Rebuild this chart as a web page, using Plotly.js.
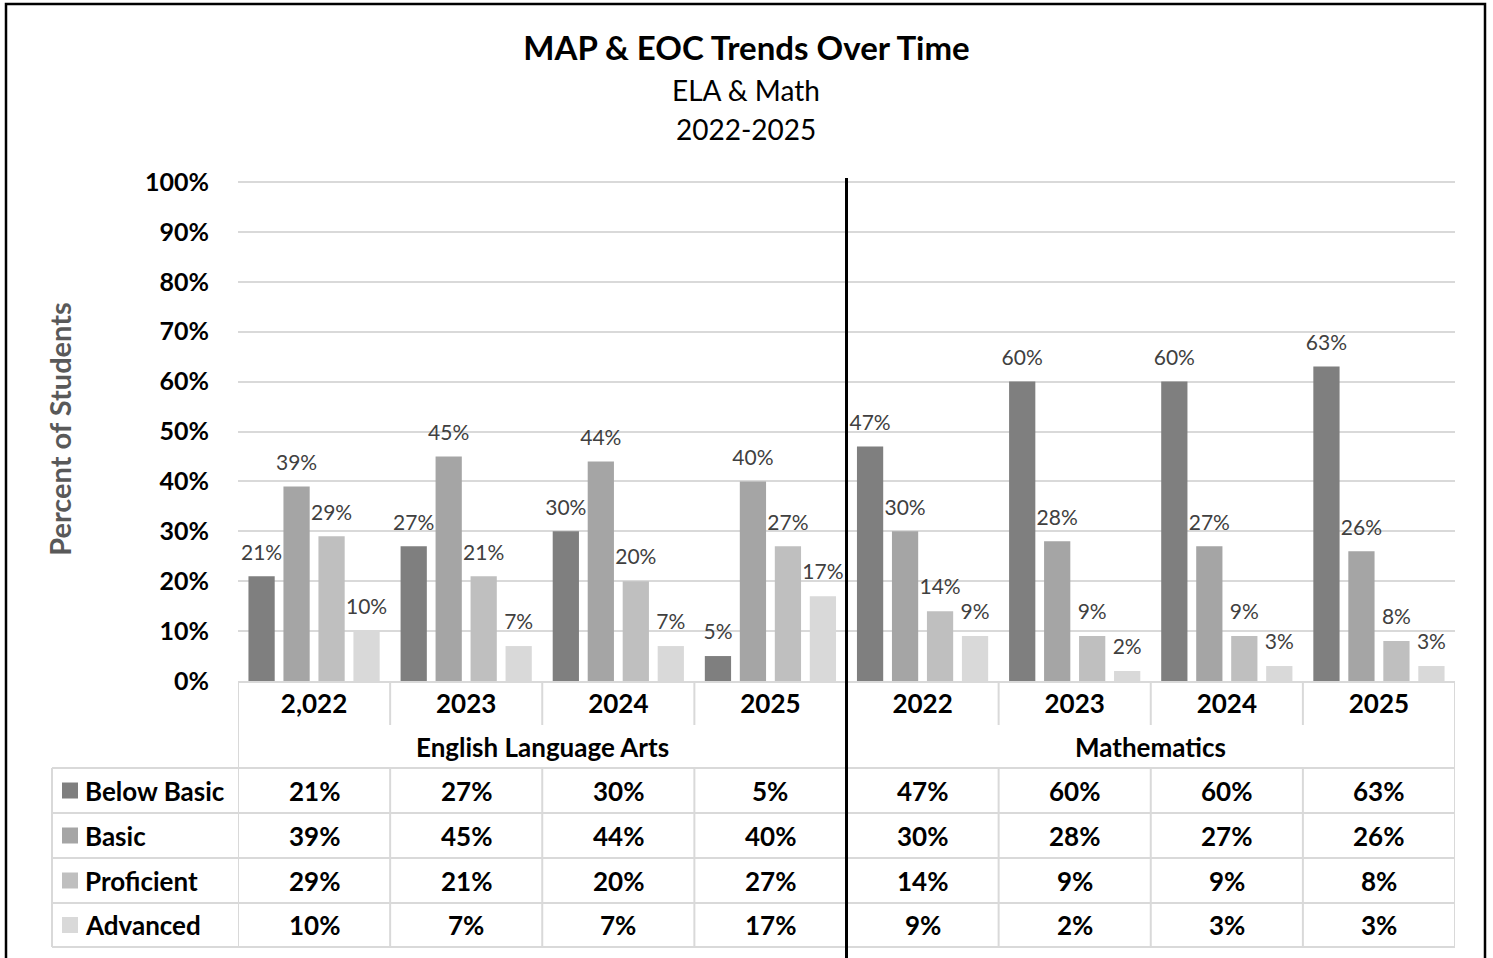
<!DOCTYPE html>
<html>
<head>
<meta charset="utf-8">
<script src="https://cdn.plot.ly/plotly-3.0.1.min.js"></script>
<style>html,body{margin:0;padding:0;background:#fff;}#chart{width:1493px;height:958px;}</style>
</head>
<body>
<div id="chart"></div>
<script>
// ---- data ----
const categories = ['2,022', '2023', '2024', '2025', '2022', '2023', '2024', '2025'];
const subjects = ['English Language Arts', 'Mathematics'];
const subjectSpans = [[0, 3], [4, 7]];
const levels = ['Below Basic', 'Basic', 'Proficient', 'Advanced'];
const belowBasic = [21, 27, 30, 5, 47, 60, 60, 63];
const basic = [39, 45, 44, 40, 30, 28, 27, 26];
const proficient = [29, 21, 20, 27, 14, 9, 9, 8];
const advanced = [10, 7, 7, 17, 9, 2, 3, 3];
const series = [belowBasic, basic, proficient, advanced];
const colors = ['#7f7f7f', '#a5a5a5', '#bfbfbf', '#d9d9d9'];

// ---- geometry helpers (pixel -> paper) ----
const W = 1493, H = 958;
const YMAX = 101;                    // axis top slightly above 100% so the 100% gridline shows
const PL = 238, PR = 1455, PB = 681;
const PT = PB - 499 * YMAX / 100;    // 100% sits at y=182
const fx = px => (px - PL) / (PR - PL);
const fy = py => (PB - py) / (PB - PT);
const FONT = 'Lato, "Open Sans", sans-serif';

const xIdx = categories.map((c, i) => i);

// label text: visible value plus a small invisible second line that lifts it off the bar
const labelText = v => '<span style="font-size:21px">' + v + '%</span><br><span style="color:rgba(0,0,0,0)">.</span>';

const traces = levels.map((name, k) => ({
  type: 'bar',
  name: name,
  x: xIdx,
  y: series[k],
  marker: {color: colors[k], line: {width: 0}},
  text: series[k].map(labelText),
  textposition: 'outside',
  constraintext: 'none',
  textfont: {family: FONT, size: 9, color: '#404040'},
  cliponaxis: false,
  hoverinfo: 'skip'
}));

const gridGray = '#d9d9d9';
const shapes = [];
const annotations = [];

const rowTops = [768, 813, 858, 903];
const rowBottom = 947;
const tableLeft = 52;

rowTops.concat([rowBottom]).forEach(py => {
  shapes.push({type: 'line', xref: 'paper', yref: 'paper', x0: fx(tableLeft), x1: 1, y0: fy(py), y1: fy(py),
    line: {color: gridGray, width: 2}, layer: 'below'});
});
[-0.5, categories.length - 0.5].forEach(xv => {
  shapes.push({type: 'line', xref: 'x', yref: 'paper', x0: xv, x1: xv, y0: 0, y1: fy(rowBottom),
    line: {color: gridGray, width: 2}, layer: 'below'});
});
for (let i = 1; i < categories.length; i++) {
  shapes.push({type: 'line', xref: 'x', yref: 'paper', x0: i - 0.5, x1: i - 0.5, y0: 0, y1: fy(725),
    line: {color: gridGray, width: 2}, layer: 'below'});
  shapes.push({type: 'line', xref: 'x', yref: 'paper', x0: i - 0.5, x1: i - 0.5, y0: fy(rowTops[0]), y1: fy(rowBottom),
    line: {color: gridGray, width: 2}, layer: 'below'});
}
shapes.push({type: 'line', xref: 'paper', yref: 'paper', x0: fx(tableLeft), x1: fx(tableLeft), y0: fy(rowTops[0]), y1: fy(rowBottom),
  line: {color: gridGray, width: 2}, layer: 'below'});

// subject divider (black)
shapes.push({type: 'line', xref: 'x', yref: 'paper', x0: 3.5, x1: 3.5, y0: fy(178), y1: fy(965),
  line: {color: '#000', width: 3}});
// outer frame
shapes.push({type: 'rect', xref: 'paper', yref: 'paper', x0: fx(6), x1: fx(1485), y0: fy(4), y1: fy(975),
  line: {color: '#000', width: 2.5}, fillcolor: 'rgba(0,0,0,0)'});

subjects.forEach((s, j) => {
  annotations.push({xref: 'x', yref: 'paper', x: (subjectSpans[j][0] + subjectSpans[j][1]) / 2, y: fy(747),
    text: '<b>' + s + '</b>', showarrow: false, font: {family: FONT, size: 26, color: '#000'},
    xanchor: 'center', yanchor: 'middle'});
});

levels.forEach((name, k) => {
  const cy = (rowTops[k] + (k < 3 ? rowTops[k + 1] : rowBottom)) / 2;
  shapes.push({type: 'rect', xref: 'paper', yref: 'paper', x0: fx(62), x1: fx(78), y0: fy(cy - 8), y1: fy(cy + 8),
    line: {width: 0}, fillcolor: colors[k]});
  annotations.push({xref: 'paper', yref: 'paper', x: fx(83), y: fy(cy), text: '<b>' + name + '</b>', showarrow: false,
    font: {family: FONT, size: 26, color: '#000'}, xanchor: 'left', yanchor: 'middle'});
  series[k].forEach((v, i) => {
    annotations.push({xref: 'x', yref: 'paper', x: i, y: fy(cy), text: '<b>' + v + '%</b>', showarrow: false,
      font: {family: FONT, size: 26, color: '#000'}, xanchor: 'center', yanchor: 'middle'});
  });
});

annotations.push({xref: 'paper', yref: 'paper', x: fx(746), y: fy(90), text: 'ELA &amp; Math', showarrow: false,
  font: {family: FONT, size: 28, color: '#000'}, xanchor: 'center', yanchor: 'middle'});
annotations.push({xref: 'paper', yref: 'paper', x: fx(746), y: fy(129), text: '2022-2025', showarrow: false,
  font: {family: FONT, size: 28, color: '#000'}, xanchor: 'center', yanchor: 'middle'});

const layout = {
  width: W, height: H,
  margin: {l: PL, r: W - PR, t: PT, b: H - PB, pad: 0},
  paper_bgcolor: '#fff', plot_bgcolor: '#fff',
  showlegend: false,
  barmode: 'group',
  bargap: 0.08,
  bargroupgap: 0.25,
  title: {text: '<b>MAP &amp; EOC Trends Over Time</b>', xref: 'container', x: 0.5, xanchor: 'center',
    yref: 'container', y: 1 - 48 / H, yanchor: 'middle', font: {family: FONT, size: 33, color: '#000'}},
  xaxis: {
    range: [-0.5, categories.length - 0.5],
    tickmode: 'array', tickvals: xIdx, ticktext: categories,
    tickfont: {family: FONT, size: 26, color: '#000', weight: 'bold'},
    showgrid: false, zeroline: false,
    showline: true, linecolor: gridGray, linewidth: 2,
    ticks: '', ticklabelstandoff: -1,
    fixedrange: true
  },
  yaxis: {
    range: [0, YMAX], tick0: 0, dtick: 10, ticksuffix: '%',
    tickfont: {family: FONT, size: 25, color: '#000', weight: 'bold'},
    showgrid: true, gridcolor: gridGray, gridwidth: 2,
    zeroline: false, showline: false, ticks: '', ticklabelstandoff: 28,
    title: {text: '<b>Percent of Students</b>', font: {family: FONT, size: 29, color: '#595959'}, standoff: 64},
    fixedrange: true
  },
  shapes: shapes,
  annotations: annotations
};

Plotly.newPlot('chart', traces, layout, {displayModeBar: false, staticPlot: true});
</script>
</body>
</html>
